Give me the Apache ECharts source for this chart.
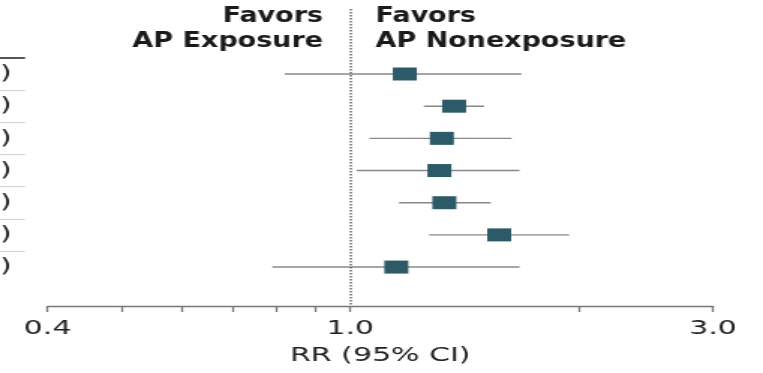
<!DOCTYPE html>
<html>
<head>
<meta charset="utf-8">
<script src="https://cdn.jsdelivr.net/npm/echarts@6/dist/echarts.min.js"></script>
<style>
  html, body { margin: 0; padding: 0; background: #fff; overflow: hidden; }
  /* the reference is stretched sideways, so draw narrow and widen it */
  #chart { width: 509px; height: 373px; transform: scaleX(1.49902); transform-origin: 0 0; }
</style>
</head>
<body>
<div id="chart"></div>
<script>
// RR and 95% CI per row, top to bottom
var rrPoint = [1.18, 1.37, 1.32, 1.31, 1.33, 1.57, 1.15];
var rrLower = [0.82, 1.25, 1.06, 1.02, 1.16, 1.27, 0.79];
var rrUpper = [1.68, 1.50, 1.63, 1.67, 1.53, 1.94, 1.67];
var tickValues = [0.4, 0.5, 0.6, 0.7, 0.8, 0.9, 1.0, 2.0, 3.0];
var tickLabels = [0.4, 1.0, 3.0];
var axisTitle = "RR (95% CI)";
var leftHeader = "Favors\nAP Exposure";
var rightHeader = "Favors\nAP Nonexposure";

var rowLabels = rrPoint.map(function (v, i) {
  return v.toFixed(2) + " (" + rrLower[i].toFixed(2) + "-" + rrUpper[i].toFixed(2) + ")";
});
var rowIdx = rrPoint.map(function (v, i) { return i; });
var sepTop = [-0.5];
var sepRows = rowIdx.slice(1).map(function (i) { return i - 0.5; });

var font = "DejaVu Sans";
var yMin = -2.02, yMax = 7.21;

var chart = echarts.init(document.getElementById("chart"));

function yAx(extra) {
  var base = {
    type: "value",
    inverse: true,
    min: yMin,
    max: yMax,
    position: "left",
    axisLine: { show: false, onZero: false },
    axisTick: { show: false },
    axisLabel: { show: false },
    splitLine: { show: false }
  };
  return Object.assign(base, extra);
}

var option = {
  animation: false,
  backgroundColor: "#fff",
  textStyle: { fontFamily: font },
  grid: {
    left: 31.7, right: 33.35, top: 9, bottom: 67,
    containLabel: false,
    outerBoundsMode: "none"
  },
  xAxis: {
    type: "value",
    min: Math.log(0.4),
    max: Math.log(3.0),
    name: axisTitle,
    nameLocation: "middle",
    nameGap: 40,
    nameTextStyle: { fontSize: 20, color: "#222", fontFamily: font },
    axisLine: { show: true, onZero: false, lineStyle: { color: "#777", width: 1.3 } },
    axisTick: {
      show: true,
      length: 6,
      customValues: tickValues.map(Math.log),
      lineStyle: { color: "#777", width: 1.3 }
    },
    axisLabel: {
      customValues: tickLabels.map(Math.log),
      formatter: function (v) { return Math.exp(v).toFixed(1); },
      fontSize: 20,
      color: "#222",
      margin: 13,
      fontFamily: font
    },
    splitLine: { show: false }
  },
  yAxis: [
    yAx({
      axisLabel: {
        show: true,
        customValues: rowIdx,
        formatter: function (v) { return rowLabels[Math.round(v)]; },
        fontSize: 20,
        color: "#1a1a1a",
        margin: 24,
        fontFamily: font
      }
    }),
    yAx({
      offset: 15,
      axisTick: {
        show: true,
        length: 20,
        customValues: sepRows,
        lineStyle: { color: "#d4d4d4", width: 1.2 }
      }
    }),
    yAx({
      offset: 15,
      axisTick: {
        show: true,
        length: 20,
        customValues: sepTop,
        lineStyle: { color: "#555", width: 2 }
      }
    })
  ],
  graphic: [
    {
      type: "text",
      x: 215.5,
      y: 4,
      scaleY: 1.13,
      style: {
        text: leftHeader,
        fontFamily: font,
        fontWeight: "bold",
        fontSize: 18,
        lineHeight: 22,
        fill: "#1a1a1a",
        align: "right",
        verticalAlign: "top"
      }
    },
    {
      type: "text",
      x: 250.5,
      y: 4,
      scaleY: 1.13,
      style: {
        text: rightHeader,
        fontFamily: font,
        fontWeight: "bold",
        fontSize: 18,
        lineHeight: 22,
        fill: "#1a1a1a",
        align: "left",
        verticalAlign: "top"
      }
    }
  ],
  series: [
    {
      type: "custom",
      name: "CI",
      silent: true,
      encode: { x: [0, 1], y: 2 },
      data: rrPoint.map(function (v, i) {
        return [Math.log(rrLower[i]), Math.log(rrUpper[i]), i];
      }),
      renderItem: function (params, api) {
        var a = api.coord([api.value(0), api.value(2)]);
        var b = api.coord([api.value(1), api.value(2)]);
        return {
          type: "line",
          shape: { x1: a[0], y1: a[1], x2: b[0], y2: b[1] },
          style: { stroke: "#888", lineWidth: 1.4 }
        };
      },
      z: 2
    },
    {
      type: "scatter",
      name: "RR",
      symbol: "rect",
      symbolSize: [16, 13],
      itemStyle: { color: "#2d5a67", opacity: 1 },
      data: rrPoint.map(function (v, i) { return [Math.log(v), i]; }),
      markLine: {
        silent: true,
        symbol: "none",
        label: { show: false },
        lineStyle: { color: "#707070", type: [1.5, 1.5], width: 1.6 },
        data: [{ xAxis: 0 }]
      },
      z: 3
    }
  ]
};
chart.setOption(option);
</script>
</body>
</html>
